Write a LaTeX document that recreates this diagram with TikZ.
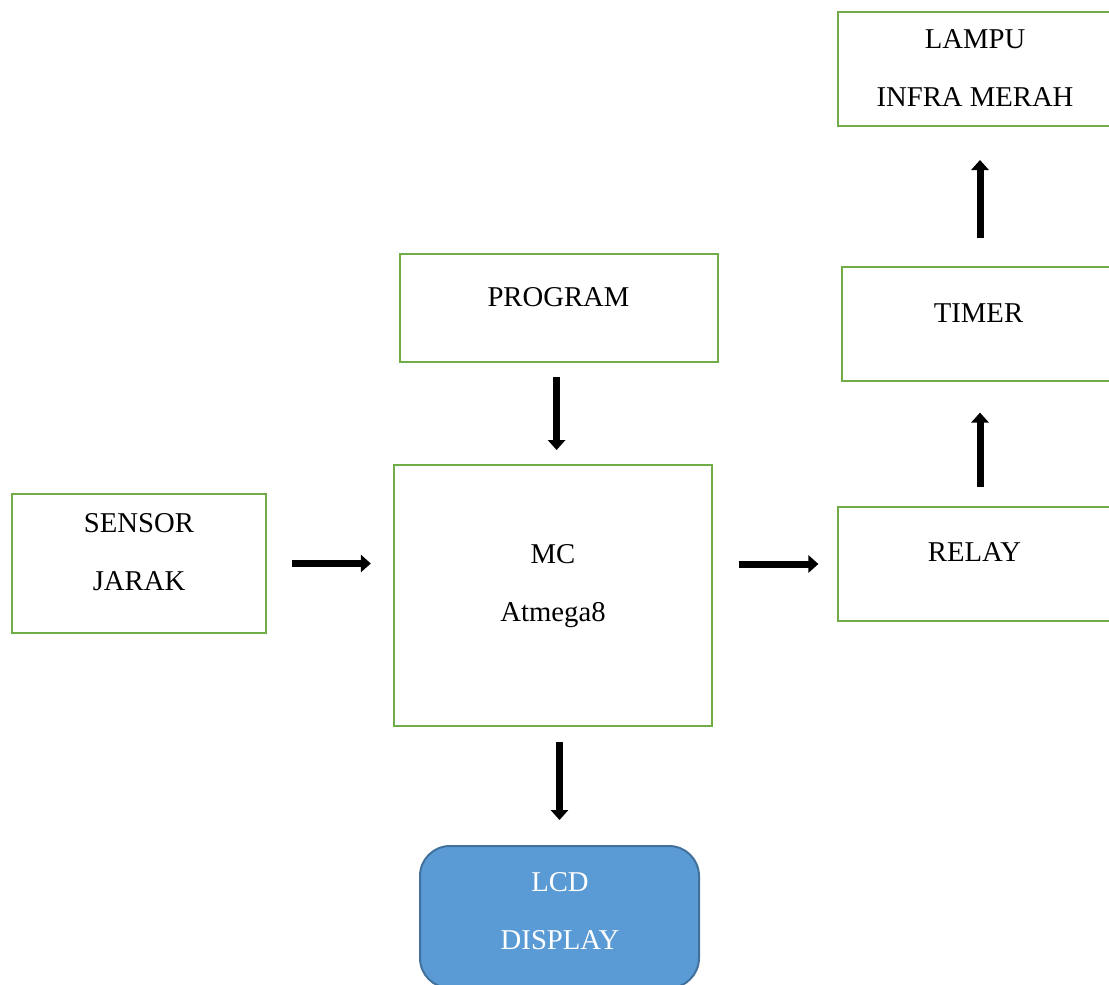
\documentclass[tikz,border=0pt]{standalone}
\usepackage{fontspec}
\setmainfont{Liberation Serif}
\usetikzlibrary{arrows.meta,positioning}
\definecolor{boxgreen}{HTML}{70AD47}
\definecolor{lcdblue}{HTML}{5B9BD5}
\definecolor{lcdedge}{HTML}{41719C}
\tikzset{
  blok/.style={draw=boxgreen, line width=1.2pt, inner sep=0pt, outer sep=0pt},
  lcdblok/.style={draw=lcdedge, fill=lcdblue, line width=1pt, rounded corners=15pt, inner sep=0pt, outer sep=0pt},
  teks/.style={font=\fontsize{14.35}{29}\selectfont, align=center, inner sep=0pt},
  arr/.style={-{Triangle[length=5pt,width=8.6pt]}, line width=3.5pt, black},
}
\begin{document}
\begin{tikzpicture}[x=0.5pt,y=0.5pt]
  \useasboundingbox (0,0) rectangle (1109,-985);
  % blocks
  \node[blok, minimum width=127pt, minimum height=69.5pt] (sensor) at (139,-563.5) {};
  \node[blok, minimum width=159pt, minimum height=54pt] (program) at (559,-308) {};
  \node[blok, minimum width=159pt, minimum height=130.5pt] (mc) at (553,-595.5) {};
  \node[blok, minimum width=137pt, minimum height=57pt] (relay) at (975,-564) {};
  \node[blok, minimum width=136pt, minimum height=57pt] (timer) at (978,-324) {};
  \node[blok, minimum width=137pt, minimum height=57pt] (lampu) at (975,-69) {};
  \node[lcdblok, minimum width=139.5pt, minimum height=71pt] (lcd) at (559.5,-917) {};
  % labels
  \node[teks] (tsensor) at (139,-552) {SENSOR\\JARAK};
  \node[teks] (tprogram) at (558.5,-297) {PROGRAM};
  \node[teks] (tmc) at (553,-586) {MC\\Atmega8};
  \node[teks] (trelay) at (974.5,-552) {RELAY};
  \node[teks] (ttimer) at (978.5,-313) {TIMER};
  \node[teks] (tlampu) at (975,-68.5) {LAMPU\\INFRA MERAH};
  \node[teks, text=white] (tlcd) at (560,-911) {LCD\\DISPLAY};
  % arrows
  \draw[arr, shorten <=12.8pt, shorten >=11.6pt] (sensor.east) -- (sensor.east -| mc.west);
  \draw[arr, shorten <=7.5pt, shorten >=7.5pt] ([xshift=-1.2pt]program.south) -- ([xshift=-1.2pt]program.south |- mc.north);
  \draw[arr, shorten <=13.3pt, shorten >=9.8pt] (relay.west -| mc.east) -- (relay.west);
  \draw[arr, shorten <=8pt, shorten >=13pt] (lcd.north |- mc.south) -- (lcd.north);
  \draw[arr, shorten <=10pt, shorten >=15.8pt] ([xshift=1pt]timer.south |- relay.north) -- ([xshift=1pt]timer.south);
  \draw[arr, shorten <=14.5pt, shorten >=17pt] ([xshift=1pt]timer.north) -- ([xshift=1pt]timer.north |- lampu.south);
\end{tikzpicture}
\end{document}
